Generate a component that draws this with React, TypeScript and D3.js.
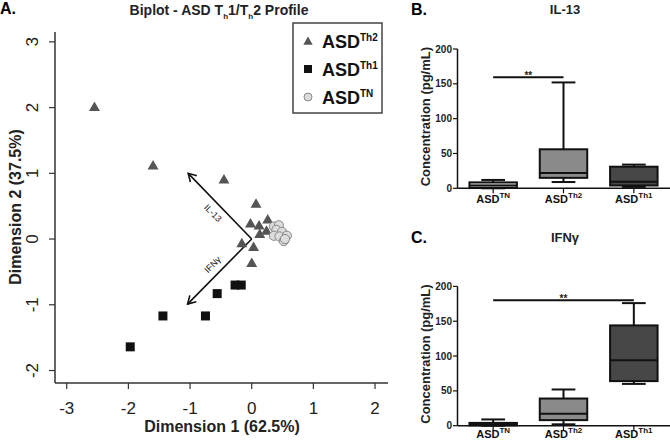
import React from "react";
import * as d3 from "d3";

// ---------- Panel A data (biplot) ----------
const th2Points: [number, number][] = [
  [-2.55, 2.01], [-1.6, 1.12], [-0.45, 0.91], [0.07, 0.54], [0.26, 0.3],
  [-0.02, 0.24], [0.12, 0.21], [0.24, 0.13], [0.13, 0.08], [-0.16, -0.06],
  [0.03, -0.12], [0.0, -0.36],
];
const th1Points: [number, number][] = [
  [-1.97, -1.64], [-1.44, -1.17], [-0.75, -1.17], [-0.56, -0.83], [-0.27, -0.7], [-0.17, -0.7],
];
const tnPoints: [number, number][] = [
  [0.36, 0.19], [0.44, 0.21], [0.4, 0.14], [0.36, 0.05], [0.49, 0.11],
  [0.45, 0.04], [0.57, 0.05], [0.52, -0.03], [0.54, 0.0],
];
const loadingNames = ["IL-13", "IFNγ"];
const loadingX = [-1.03, -1.04];
const loadingY = [1.0, -0.99];
const xTicksA = [-3, -2, -1, 0, 1, 2];
const yTicksA = [-2, -1, 0, 1, 2, 3];
const legendGroups = ["Th2", "Th1", "TN"];

// ---------- Panels B/C data (box plots) ----------
const groups = ["TN", "Th2", "Th1"];
// IL-13: [min, q1, median, q3, max]
const il13Stats: number[][] = [
  [0, 0.5, 4, 8.5, 12],
  [9, 15, 22, 56, 152],
  [2, 4, 9.5, 31, 34],
];
const ifngStats: number[][] = [
  [0, 0.5, 2, 4, 9],
  [2, 8, 17, 39, 52],
  [60, 64, 94, 144, 176],
];
const boxFills = ["#d2d2d2", "#8a8a8a", "#474747"];
const yTicksBC = [0, 50, 100, 150, 200];
const il13Sig = { from: "TN", to: "Th2", value: 159.5, label: "**" };
const ifngSig = { from: "TN", to: "Th1", value: 180, label: "**" };

const FONT = "'Liberation Sans', Arial, Helvetica, sans-serif";

function Biplot() {
  const x = d3.scaleLinear().domain([-3.19, 2.21]).range([55, 388]);
  const y = d3.scaleLinear().domain([-2.19, 3.15]).range([383, 32]);
  const axisColor = "#333";
  const tri = d3.symbol().type(d3.symbolTriangle).size(52)()!;
  const triSmall = d3.symbol().type(d3.symbolTriangle).size(38)()!;

  const arrowHead = (x0: number, y0: number, x1: number, y1: number) => {
    const ang = Math.atan2(y1 - y0, x1 - x0);
    const L = 9;
    const a1 = ang + Math.PI - Math.PI / 6;
    const a2 = ang + Math.PI + Math.PI / 6;
    return `M${x1 + L * Math.cos(a1)},${y1 + L * Math.sin(a1)}L${x1},${y1}L${x1 + L * Math.cos(a2)},${y1 + L * Math.sin(a2)}`;
  };

  return (
    <g fontFamily={FONT}>
      <text x={0} y={14} fontSize={16} fontWeight="bold">A.</text>
      <text x={219} y={15} fontSize={14} fontWeight="bold" textAnchor="middle" fill="#222">
        Biplot - ASD T<tspan fontSize={8} dy={4}>h</tspan>
        <tspan dy={-4}>1/T</tspan>
        <tspan fontSize={8} dy={4}>h</tspan>
        <tspan dy={-4}>2 Profile</tspan>
      </text>
      {/* axes */}
      <line x1={55} x2={55} y1={32} y2={383} stroke={axisColor} strokeWidth={1.5} />
      <line x1={55} x2={388} y1={383} y2={383} stroke={axisColor} strokeWidth={1.5} />
      {xTicksA.map((t) => (
        <g key={"xt" + t}>
          <line x1={x(t)} x2={x(t)} y1={383} y2={389} stroke={axisColor} strokeWidth={1.2} />
          <text x={x(t)} y={414} fontSize={17} textAnchor="middle" fill="#222">{t}</text>
        </g>
      ))}
      {yTicksA.map((t) => (
        <g key={"yt" + t}>
          <line x1={49} x2={55} y1={y(t)} y2={y(t)} stroke={axisColor} strokeWidth={1.2} />
          <text transform={`translate(38,${y(t)}) rotate(-90)`} fontSize={17} textAnchor="middle" fill="#222">{t}</text>
        </g>
      ))}
      <text x={222} y={432} fontSize={16} fontWeight="bold" textAnchor="middle" fill="#222">Dimension 1 (62.5%)</text>
      <text transform={`translate(21,207) rotate(-90)`} fontSize={16} fontWeight="bold" textAnchor="middle" fill="#222">Dimension 2 (37.5%)</text>

      {/* loading arrows */}
      {loadingNames.map((n, i) => {
        const x0 = x(0), y0 = y(0), x1 = x(loadingX[i]), y1 = y(loadingY[i]);
        const mx = (x0 + x1) / 2, my = (y0 + y1) / 2;
        const up = loadingY[i] > 0;
        const lx = mx - 7;
        const ly = up ? my + 7 : my - 7;
        return (
          <g key={n}>
            <line x1={x0} y1={y0} x2={x1} y2={y1} stroke="#111" strokeWidth={1.6} />
            <path d={arrowHead(x0, y0, x1, y1)} fill="none" stroke="#111" strokeWidth={1.6} />
            <text transform={`translate(${lx},${ly}) rotate(${up ? 45 : -45})`} fontSize={9} textAnchor="middle" dominantBaseline="central" fill="#111">{n}</text>
          </g>
        );
      })}

      {th2Points.map((p, i) => (
        <path key={"t" + i} d={tri} transform={`translate(${x(p[0])},${y(p[1]) + 1})`} fill="#555" />
      ))}
      {th1Points.map((p, i) => (
        <rect key={"s" + i} x={x(p[0]) - 4.5} y={y(p[1]) - 4.5} width={9} height={9} fill="#111" />
      ))}
      {tnPoints.map((p, i) => (
        <circle key={"c" + i} cx={x(p[0])} cy={y(p[1])} r={4.6} fill="#dcdcdc" stroke="#888" strokeWidth={1} />
      ))}

      {/* legend */}
      <rect x={293} y={23} width={89} height={90} fill="#fff" stroke="#444" strokeWidth={1.5} />
      {legendGroups.map((g, i) => {
        const cy = 41 + i * 28;
        return (
          <g key={g}>
            {g === "Th2" && <path d={triSmall} transform={`translate(308,${cy + 1})`} fill="#555" />}
            {g === "Th1" && <rect x={304} y={cy - 4} width={8} height={8} fill="#111" />}
            {g === "TN" && <circle cx={308} cy={cy} r={4} fill="#dcdcdc" stroke="#888" strokeWidth={1} />}
            <text x={322} y={cy + 7} fontSize={18} fontWeight="bold" fill="#111">
              ASD<tspan fontSize={10} dy={-7}>{g}</tspan>
            </text>
          </g>
        );
      })}
    </g>
  );
}

function BoxPanel(props: {
  top: number; zeroY: number; letter: string; title: string; stats: number[][]; labelGap: number;
  sig: { from: string; to: string; value: number; label: string };
}) {
  const { top, zeroY, letter, title, stats, sig, labelGap } = props;
  const x = d3.scaleBand().domain(groups).range([458, 669]).padding(0);
  const y = d3.scaleLinear().domain([0, 200]).range([zeroY, zeroY - 139.3]);
  const bw = x.bandwidth() * 0.675;
  const cw = bw / 2;
  const cx = (g: string) => x(g)! + x.bandwidth() / 2;
  return (
    <g fontFamily={FONT}>
      <text x={411} y={top + 15} fontSize={16} fontWeight="bold">{letter}</text>
      <text x={565} y={top + 14} fontSize={13} fontWeight="bold" textAnchor="middle" fill="#222">{title}</text>
      <line x1={457.5} x2={457.5} y1={y(200)} y2={zeroY} stroke="#111" strokeWidth={1.5} />
      <line x1={457.5} x2={670} y1={zeroY} y2={zeroY} stroke="#111" strokeWidth={1.5} />
      {yTicksBC.map((t) => (
        <g key={t}>
          <line x1={453} x2={457.5} y1={y(t)} y2={y(t)} stroke="#111" strokeWidth={1.2} />
          <text x={452} y={y(t)} dy="0.35em" fontSize={10} fontWeight="bold" textAnchor="end" fill="#222">{t}</text>
        </g>
      ))}
      <text transform={`translate(430,${(y(200) + zeroY) / 2 - 2}) rotate(-90)`} fontSize={13} fontWeight="bold" textAnchor="middle" fill="#222">Concentration (pg/mL)</text>
      {groups.map((g, i) => {
        const [mn, q1, md, q3, mx] = stats[i];
        const c = cx(g);
        return (
          <g key={g}>
            <line x1={c} x2={c} y1={zeroY} y2={zeroY + 5} stroke="#111" strokeWidth={1.2} />
            <line x1={c} x2={c} y1={y(mx)} y2={y(q3)} stroke="#111" strokeWidth={2} />
            <line x1={c} x2={c} y1={y(q1)} y2={y(mn)} stroke="#111" strokeWidth={2} />
            <line x1={c - cw / 2} x2={c + cw / 2} y1={y(mx)} y2={y(mx)} stroke="#111" strokeWidth={2} />
            <line x1={c - cw / 2} x2={c + cw / 2} y1={y(mn)} y2={y(mn)} stroke="#111" strokeWidth={2} />
            <rect x={c - bw / 2} y={y(q3)} width={bw} height={Math.max(y(q1) - y(q3), 0.5)} fill={boxFills[i]} stroke="#111" strokeWidth={2} />
            <line x1={c - bw / 2} x2={c + bw / 2} y1={y(md)} y2={y(md)} stroke="#111" strokeWidth={2} />
            <text x={c} y={zeroY + labelGap} fontSize={11} fontWeight="bold" textAnchor="middle" fill="#111">
              ASD<tspan fontSize={8} dy={-5}>{g}</tspan>
            </text>
          </g>
        );
      })}
      <line x1={cx(sig.from)} x2={cx(sig.to)} y1={y(sig.value)} y2={y(sig.value)} stroke="#111" strokeWidth={2} />
      <text x={(cx(sig.from) + cx(sig.to)) / 2} y={y(sig.value) + 2} fontSize={10} fontWeight="bold" textAnchor="middle" fill="#222">{sig.label}</text>
    </g>
  );
}

export default function App() {
  return (
    <svg width={670} height={440} style={{ position: "absolute", left: 0, top: 0, background: "#fff" }}>
      <rect width={670} height={440} fill="#fff" />
      <Biplot />
      <BoxPanel top={0} zeroY={188.3} labelGap={14.4} letter="B." title="IL-13" stats={il13Stats} sig={il13Sig} />
      <BoxPanel top={228} zeroY={425.7} labelGap={12} letter="C." title="IFNγ" stats={ifngStats} sig={ifngSig} />
    </svg>
  );
}
